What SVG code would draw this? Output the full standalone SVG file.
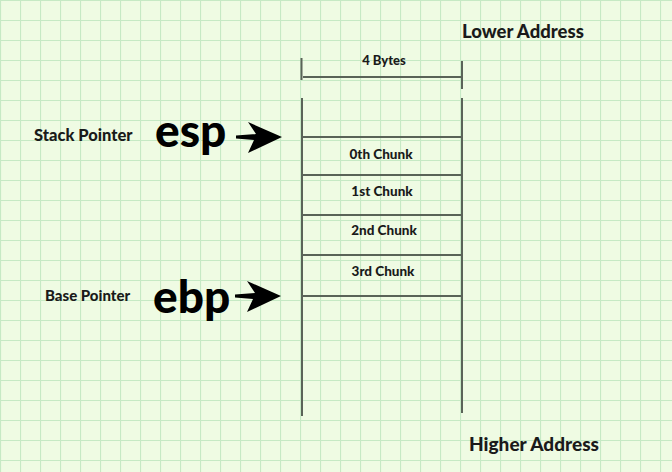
<svg xmlns="http://www.w3.org/2000/svg" width="672" height="472" viewBox="0 0 672 472">
<defs>
<pattern id="grid" width="20" height="20" patternUnits="userSpaceOnUse">
<rect width="20" height="20" fill="#effbe3"/>
<path d="M0 0.5H20M0.5 0V20" stroke="#c6e9c4" stroke-width="1.2" fill="none"/>
</pattern>
<polygon id="arr" points="0,-1.5 20,-3 12,-15 46,0 12,16 18,3 0,1.5"/>
</defs>
<style>
.t{font-family:Lato,"Open Sans","Liberation Sans",sans-serif;font-weight:900;fill:#1a1a1a}
.big{font-family:Lato,"Open Sans","Liberation Sans",sans-serif;font-weight:900;font-size:46px;fill:#000}
.ln{stroke:#5a6358;stroke-width:2;fill:none}
</style>
<rect width="672" height="472" fill="url(#grid)"/>
<g id="connectors">
<path class="ln" d="M301.5 58V80M302 98V416M462 61V89M462 98V413M303 77H462"/>
<path class="ln" d="M302 137H462M302 175H462M302 215H462M302 255H462M302 296H462"/>
</g>
<g id="width-label"><text class="t" x="384" y="65" font-size="13" text-anchor="middle">4 Bytes</text></g>
<g id="lower"><text class="t" x="462" y="38" font-size="18.5">Lower Address</text></g>
<g id="higher"><text class="t" x="469" y="451" font-size="19">Higher Address</text></g>
<g id="chunk0"><text class="t" x="381" y="159" font-size="13.5" text-anchor="middle">0th Chunk</text></g>
<g id="chunk1"><text class="t" x="382" y="196" font-size="13.5" text-anchor="middle">1st Chunk</text></g>
<g id="chunk2"><text class="t" x="384" y="235" font-size="13.5" text-anchor="middle">2nd Chunk</text></g>
<g id="chunk3"><text class="t" x="383" y="276" font-size="13.5" text-anchor="middle">3rd Chunk</text></g>
<g id="esp">
<text class="t" x="34" y="141" font-size="16.5">Stack Pointer</text>
<text class="big" x="155" y="147">esp</text>
<use href="#arr" x="236" y="137"/>
</g>
<g id="ebp">
<text class="t" x="45" y="301" font-size="15">Base Pointer</text>
<text class="big" x="153" y="313">ebp</text>
<use href="#arr" x="235" y="296"/>
</g>
</svg>
